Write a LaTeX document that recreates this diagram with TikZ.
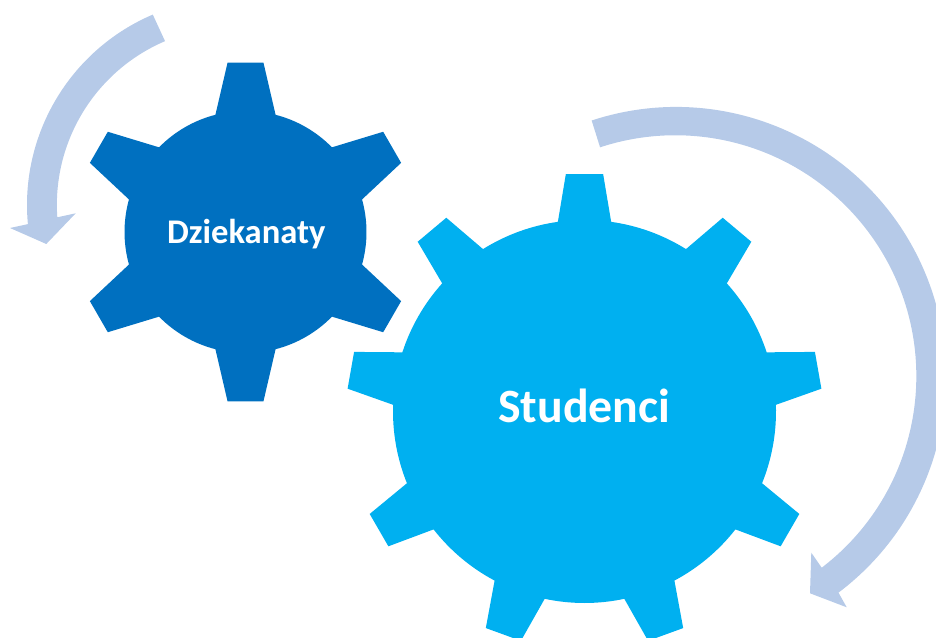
\documentclass[tikz,border=0pt]{standalone}
\usepackage{fontspec}
\setmainfont{Carlito}
\definecolor{gearDark}{HTML}{0070C0}
\definecolor{gearLight}{HTML}{00B0F0}
\definecolor{arrowBlue}{HTML}{B6CAE8}
\tikzset{
  gearlabel/.style={text=white,font=\bfseries,anchor=base,inner sep=0pt},
  turnarrow/.style={fill=arrowBlue,draw=none}
}
% #1 fill, #2 centre x, #3 centre y (y up), #4 tooth list, #5 body radius, #6 tip radius, #7 half base angle, #8 half tip angle, #9 arc span
\newcommand{\drawgear}[9]{%
  \begin{scope}[shift={(#2,#3)}]
    \fill[#1] (90+#7:#5) \foreach \a in {#4} {
      -- (\a+#7:#5) -- (\a+#8:#6) -- (\a-#8:#6) -- (\a-#7:#5)
      arc[start angle=\a-#7,delta angle=-#9,radius=#5]
    } -- cycle;
  \end{scope}}
\begin{document}
\begin{tikzpicture}[x=1pt,y=1pt]
\useasboundingbox (0,0) rectangle (936,637);
\clip (0,0) rectangle (936,637);
% small arrow (centre 234,205 in image => y=432)
\fill[turnarrow] (234,432) ++(113.1:207) arc[start angle=113.1,end angle=185.3,radius=207]
  -- (10,409) -- (46.3,393) -- (75.7,423.7) -- (57.3,419.7)
  arc[start angle=184,end angle=113.1,radius=178] -- cycle;
% large arrow (centre 676,377 in image => y=260)
\fill[turnarrow] (676,260) ++(108.2:270) arc[start angle=108.2,end angle=-53,radius=270]
  -- (846.7,29.7) -- (810,43.7) -- (811.3,84.3) -- (821.7,69.3)
  arc[start angle=-52.6,end angle=108.2,radius=241] -- cycle;
% gears
\drawgear{gearDark}{245.5}{405}{90,30,...,-210}{121}{170.3}{14.4}{6.05}{31.2}
\drawgear{gearLight}{584.5}{225.5}{90,50,...,-230}{191.5}{238}{8}{4.5}{24}
\node[gearlabel,font=\bfseries\fontsize{34.6}{38}\selectfont] (dziekanaty) at (246.3,393.8) {Dziekanaty};
\node[gearlabel,font=\bfseries\fontsize{47.8}{52}\selectfont] (studenci) at (584.3,214.8) {Studenci};
\end{tikzpicture}
\end{document}
